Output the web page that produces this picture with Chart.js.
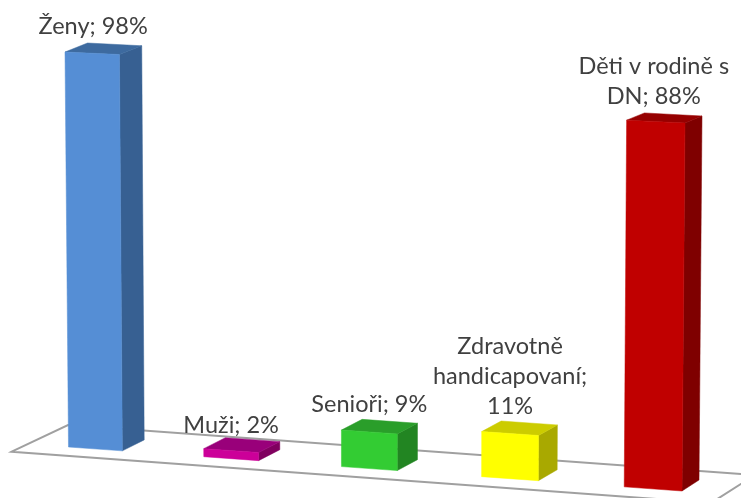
<!DOCTYPE html>
<html>
<head>
<meta charset="utf-8">
<style>html,body{margin:0;padding:0;background:#fff}canvas{display:block}</style>
<script src="https://cdn.jsdelivr.net/npm/chart.js@4"></script>
</head>
<body>
<canvas id="c" width="741" height="498"></canvas>
<script>
const categories = ["Ženy", "Muži", "Senioři", "Zdravotně handicapovaní", "Děti v rodině s DN"];
const values = [98, 2, 9, 11, 88];
const labelLines = [["Ženy; 98%"], ["Muži; 2%"], ["Senioři; 9%"], ["Zdravotně", "handicapovaní;", "11%"], ["Děti v rodině s", "DN; 88%"]];
const frontColors = ["#558ed5", "#cc0099", "#33cc33", "#ffff00", "#c00000"];
const sideColors = ["#376092", "#80005f", "#228522", "#a9a900", "#7f0000"];
const topColors = ["#3d6a9f", "#99007a", "#2a9e2a", "#cccc00", "#960000"];
const labelGaps = [9, 5, 7, 7, 9];
const labelShifts = [1, 0, 0, 0, -2];

// Perspective calibration: where the outer corners of the first and last bars land.
const frontQuad = [[68.5, 447], [682, 491], [65, 52], [685, 123]];
const backQuad = [[90.5, 436], [699, 480], [87.5, 43], [702, 116]];
const floorQuad = [[11.7, 451.7], [68, 425], [755, 475], [711, 503]];
const labelFont = '23.5px Lato';
const lineHeight = 30;

function homography(src, dst) {
  const A = [];
  src.forEach((s, i) => {
    const [x, y] = s, [u, v] = dst[i];
    A.push([x, y, 1, 0, 0, 0, -u * x, -u * y, u]);
    A.push([0, 0, 0, x, y, 1, -v * x, -v * y, v]);
  });
  for (let i = 0; i < 8; i++) {
    let p = i;
    for (let r = i + 1; r < 8; r++) if (Math.abs(A[r][i]) > Math.abs(A[p][i])) p = r;
    [A[i], A[p]] = [A[p], A[i]];
    for (let r = 0; r < 8; r++) {
      if (r === i) continue;
      const f = A[r][i] / A[i][i];
      for (let c = i; c < 9; c++) A[r][c] -= f * A[i][c];
    }
  }
  const h = A.map((row, i) => row[8] / row[i]);
  h.push(1);
  return (x, y) => {
    const w = h[6] * x + h[7] * y + h[8];
    return [(h[0] * x + h[1] * y + h[2]) / w, (h[3] * x + h[4] * y + h[5]) / w];
  };
}

let toFront = null, toBack = null;

function poly(ctx, pts, color) {
  ctx.beginPath();
  pts.forEach((p, i) => i ? ctx.lineTo(p[0], p[1]) : ctx.moveTo(p[0], p[1]));
  ctx.closePath();
  ctx.fillStyle = color;
  ctx.fill();
  ctx.strokeStyle = color;
  ctx.lineWidth = 0.5;
  ctx.stroke();
}

class Bar3D extends Chart.BarElement {
  static id = 'bar3d';
  draw(ctx) {
    if (!toFront) return;
    const {x, y, base, width} = this.getProps(['x', 'y', 'base', 'width'], true);
    const i = this.$context.dataIndex;
    const l = x - width / 2, r = x + width / 2;
    const fbl = toFront(l, base), fbr = toFront(r, base), ftl = toFront(l, y), ftr = toFront(r, y);
    const bbr = toBack(r, base), btl = toBack(l, y), btr = toBack(r, y);
    ctx.save();
    poly(ctx, [fbr, bbr, btr, ftr], sideColors[i]);
    poly(ctx, [ftl, ftr, btr, btl], topColors[i]);
    poly(ctx, [fbl, fbr, ftr, ftl], this.options.backgroundColor);
    ctx.restore();
  }
}

class Bar3DController extends Chart.BarController {
  static id = 'bar3d';
  static defaults = {dataElementType: 'bar3d'};
}

Chart.register(Bar3D, Bar3DController);

const scene = {
  id: 'scene',
  beforeDatasetsDraw(chart) {
    const bars = chart.getDatasetMeta(0).data;
    const ys = chart.scales.y;
    const first = bars[0], last = bars[bars.length - 1];
    const l = first.x - first.width / 2, r = last.x + last.width / 2;
    const src = [[l, ys.getPixelForValue(0)], [r, ys.getPixelForValue(0)],
                 [l, ys.getPixelForValue(values[0])], [r, ys.getPixelForValue(values[values.length - 1])]];
    toFront = homography(src, frontQuad);
    toBack = homography(src, backQuad);
    const ctx = chart.ctx;
    ctx.save();
    ctx.beginPath();
    floorQuad.forEach((p, i) => i ? ctx.lineTo(p[0], p[1]) : ctx.moveTo(p[0], p[1]));
    ctx.closePath();
    ctx.strokeStyle = '#a0a0a0';
    ctx.lineWidth = 2;
    ctx.stroke();
    ctx.restore();
  },
  afterDatasetsDraw(chart) {
    const ctx = chart.ctx;
    ctx.save();
    ctx.font = labelFont;
    ctx.fillStyle = '#404040';
    ctx.textAlign = 'center';
    ctx.textBaseline = 'alphabetic';
    chart.getDatasetMeta(0).data.forEach((bar, i) => {
      const cx = toFront(bar.x, bar.y)[0] + labelShifts[i];
      const topY = toBack(bar.x - bar.width / 2, bar.y)[1];
      const lines = labelLines[i];
      lines.forEach((t, k) => {
        ctx.fillText(t, cx, topY - labelGaps[i] - (lines.length - 1 - k) * lineHeight);
      });
    });
    ctx.restore();
  }
};

new Chart(document.getElementById('c'), {
  type: 'bar3d',
  data: {
    labels: categories,
    datasets: [{data: values, backgroundColor: frontColors, categoryPercentage: 1, barPercentage: 0.4}]
  },
  plugins: [scene],
  options: {
    responsive: false,
    animation: false,
    layout: {padding: 0},
    plugins: {legend: {display: false}, tooltip: {enabled: false}, title: {display: false}},
    scales: {
      x: {display: false},
      y: {display: false, min: 0, max: 100}
    }
  }
});
</script>
</body>
</html>
